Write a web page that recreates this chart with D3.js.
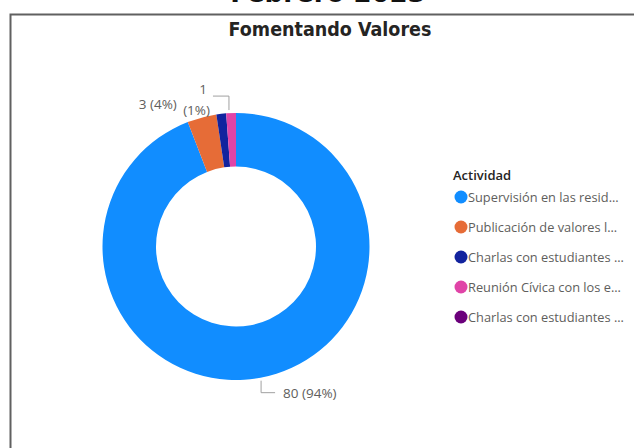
<!DOCTYPE html>
<html lang="es">
<head>
<meta charset="UTF-8">
<title>Fomentando Valores</title>
<script src="https://d3js.org/d3.v7.min.js"></script>
<style>
  body { margin: 0; background: #fff; }
  svg { display: block; }
</style>
</head>
<body>
<svg id="chart" width="634" height="448"></svg>
<script>
const categories = [
  "Supervisión en las resid...",
  "Publicación de valores l...",
  "Charlas con estudiantes ...",
  "Reunión Cívica con los e...",
  "Charlas con estudiantes ..."
];
const values = [80, 3, 1, 1, 0];
const colors = ["#118DFF", "#E66C37", "#12239E", "#E044A7", "#6B007B"];

const svg = d3.select("#chart");
const total = d3.sum(values);
const fmt = v => `${v} (${Math.round(v / total * 100)}%)`;

// encabezado cortado de la página
svg.append("text")
  .attr("x", 328).attr("y", 1.5)
  .attr("text-anchor", "middle")
  .attr("font-family", "DejaVu Sans")
  .attr("font-weight", "bold")
  .attr("font-size", 26)
  .attr("fill", "#111")
  .text("Febrero 2023");

// marco del visual
svg.append("path")
  .attr("d", "M10.5,448 V14.5 H634")
  .attr("fill", "none")
  .attr("stroke", "#606060")
  .attr("stroke-width", 2);

svg.append("text")
  .attr("x", 330).attr("y", 36)
  .attr("text-anchor", "middle")
  .attr("font-family", "DejaVu Sans Condensed")
  .attr("font-weight", "bold")
  .attr("font-size", 19.5)
  .attr("fill", "#252423")
  .text("Fomentando Valores");

const cx = 236, cy = 246.5, rOut = 133.5, rIn = 80;
const g = svg.append("g").attr("transform", `translate(${cx},${cy})`);

const pie = d3.pie().sort(null).value(d => d)(values);
const arc = d3.arc().innerRadius(rIn).outerRadius(rOut);

g.selectAll("path.slice")
  .data(pie)
  .join("path")
  .attr("class", "slice")
  .attr("d", arc)
  .attr("fill", (d, i) => colors[i]);

const mid = d => (d.startAngle + d.endAngle) / 2;
const onEdge = (d, r) => [r * Math.sin(mid(d)), -r * Math.cos(mid(d))];
const lbl = sel => sel.attr("font-family", "Open Sans").attr("font-size", 13.5).attr("fill", "#605E5C");
const lineStyle = sel => sel.attr("fill", "none").attr("stroke", "#A0A0A0").attr("stroke-width", 1);

// 80 (94%)
{
  const d = pie[0];
  const [x, y] = onEdge(d, rOut + 3);
  g.append("path").call(lineStyle)
    .attr("d", `M${x},${y} V${y + 12} H${x + 14}`);
  g.append("text").call(lbl)
    .attr("x", x + 22).attr("y", y + 17)
    .text(fmt(values[0]));
}
// 3 (4%)
{
  const d = pie[1];
  const [x, y] = onEdge(d, rOut);
  g.append("text").call(lbl)
    .attr("x", x - 25).attr("y", y - 8)
    .attr("text-anchor", "end")
    .text(fmt(values[1]));
}
// 1 (1%)
{
  const d = pie[3];
  const [x, y] = onEdge(d, rOut + 3);
  g.append("path").call(lineStyle)
    .attr("d", `M${x - 2},${y} V${y - 14} H${x - 18}`);
  const t = g.append("text").call(lbl).attr("text-anchor", "end");
  t.append("tspan").attr("x", x - 24).attr("y", y - 16).text(values[3]);
  t.append("tspan").attr("x", x - 21).attr("y", y + 5).text(`(${Math.round(values[3] / total * 100)}%)`);
}

// leyenda
const lg = svg.append("g").attr("transform", "translate(453,0)");
lg.append("text")
  .attr("x", 0).attr("y", 180)
  .attr("font-family", "Open Sans")
  .attr("font-weight", 600)
  .attr("font-size", 13)
  .attr("fill", "#252423")
  .text("Actividad");

const ly = d3.scalePoint().domain(d3.range(categories.length)).range([197, 317]);
const item = lg.selectAll("g.item")
  .data(categories)
  .join("g")
  .attr("class", "item")
  .attr("transform", (d, i) => `translate(0,${ly(i)})`);
item.append("circle")
  .attr("cx", 8).attr("cy", 0).attr("r", 6.5)
  .attr("fill", (d, i) => colors[i]);
item.append("text")
  .attr("x", 15).attr("y", 4.5)
  .attr("font-family", "Open Sans")
  .attr("font-size", 12.8)
  .attr("fill", "#605E5C")
  .text(d => d);
</script>
</body>
</html>
